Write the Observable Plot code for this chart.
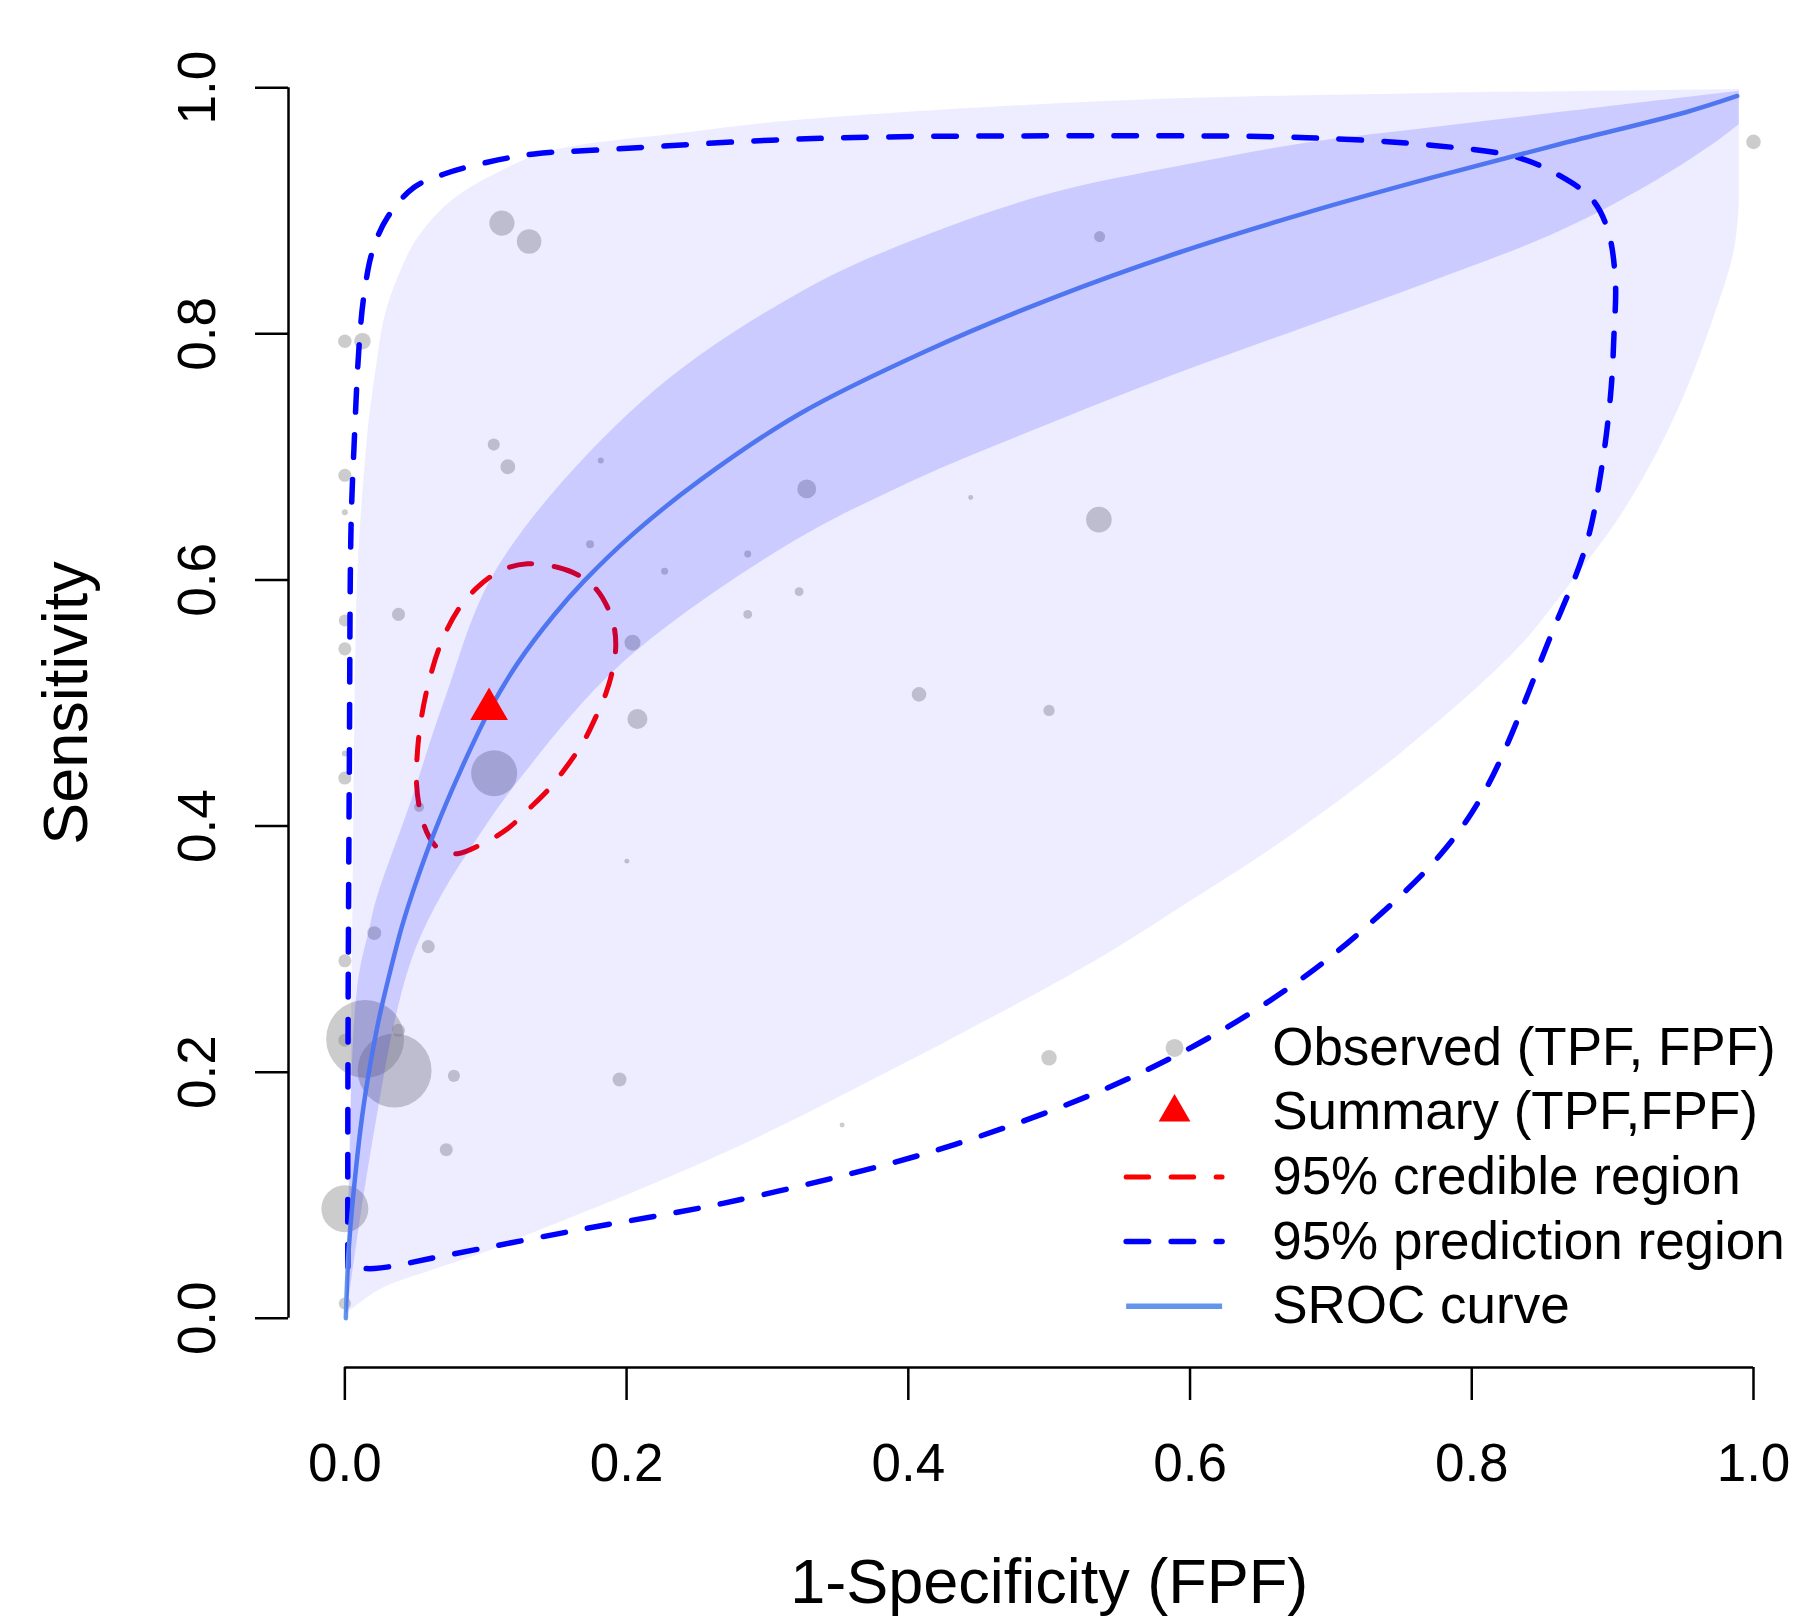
<!DOCTYPE html>
<html>
<head>
<meta charset="utf-8">
<script src="https://cdn.jsdelivr.net/npm/d3@7"></script>
<script src="https://cdn.jsdelivr.net/npm/@observablehq/plot@0.6"></script>
<style>
  html, body { margin: 0; padding: 0; background: #fff; }
  #chart { width: 1793px; height: 1618px; }
</style>
</head>
<body>
<div id="chart"></div>
<script>
// ---------------- data ----------------
const xTicks = [0.0, 0.2, 0.4, 0.6, 0.8, 1.0];
const yTicks = [0.0, 0.2, 0.4, 0.6, 0.8, 1.0];
const xTitle = "1-Specificity (FPF)";
const yTitle = "Sensitivity";

// observed studies: FPF, TPF and relative weight (point area)
const obsFPF = [0.1115, 0.1308, 0.000, 0.0125, 0.1057, 0.1157, 0.000, 0.000, 0.1817, 0.3279,
                0.4443, 0.5353, 0.5358, 1.000, 0.1741, 0.227, 0.286, 0.3225, 0.286, 0.0381,
                0.000, 0.000, 0.2042, 0.2077, 0.106, 0.000, 0.000, 0.0527, 0.2002, 0.4076,
                0.4999, 0.4999, 0.353, 0.195, 0.0774, 0.072, 0.0209, 0.0592, 0.000, 0.0144,
                0.0353, 0.038, 0.000, 0.000, 0.000];
const obsTPF = [0.890, 0.875, 0.794, 0.794, 0.710, 0.692, 0.685, 0.655, 0.697, 0.674,
                0.667, 0.649, 0.879, 0.956, 0.629, 0.607, 0.621, 0.5905, 0.572, 0.572,
                0.567, 0.544, 0.549, 0.487, 0.443, 0.459, 0.439, 0.4155, 0.3715, 0.507,
                0.494, 0.2117, 0.157, 0.194, 0.197, 0.137, 0.313, 0.302, 0.2905, 0.227,
                0.2014, 0.234, 0.226, 0.089, 0.012];
const obsWeight = [10.4, 9.9, 3.0, 4.5, 2.4, 3.6, 2.8, 0.6, 0.6, 5.9,
                   0.4, 10.8, 2.0, 3.5, 1.05, 0.8, 0.8, 1.3, 1.3, 2.8,
                   2.4, 2.8, 4.2, 6.6, 34.8, 0.6, 2.8, 1.6, 0.4, 3.5,
                   2.1, 3.9, 0.4, 3.2, 2.4, 2.8, 3.2, 2.8, 2.8, 100,
                   90, 2.8, 2.8, 36.3, 2.4];

const summaryPoint = [0.1024, 0.495];

// SROC curve
const srocCurve = [[0.0007,0.0],[0.0027,0.0552],[0.0068,0.1094],[0.0122,0.1635],[0.0177,0.2041],
  [0.0245,0.2448],[0.0312,0.2773],[0.0407,0.319],[0.0502,0.353],[0.0634,0.3945],[0.0823,0.4455],
  [0.1024,0.4935],[0.1225,0.532],[0.1485,0.5715],[0.1698,0.599],[0.2053,0.638],[0.2527,0.6815],
  [0.3236,0.7355],[0.4135,0.7865],[0.5033,0.8295],[0.5932,0.8665],[0.683,0.8985],[0.7729,0.9273],
  [0.8628,0.9543],[0.9526,0.9803],[0.9885,0.9933]];

// inner band (credible band of the SROC curve)
const innerUpper = [[0.0007,0.0],[0.0022,0.08],[0.0038,0.16],[0.0068,0.2448],[0.0105,0.283],
  [0.0165,0.3126],[0.022,0.3396],[0.047,0.4208],[0.0705,0.502],[0.1083,0.6103],[0.2112,0.7457],
  [0.3236,0.8343],[0.4135,0.8808],[0.5033,0.915],[0.5932,0.9368],[0.683,0.9555],[0.7729,0.968],
  [0.8628,0.9804],[0.9896,0.9976]];
const innerLower = [[0.0007,0.0],[0.0109,0.0823],[0.0225,0.1635],[0.036,0.2448],[0.05,0.300],
  [0.07,0.347],[0.095,0.392],[0.1225,0.436],[0.1935,0.5291],[0.3095,0.6253],[0.4041,0.6813],
  [0.5033,0.7285],[0.5932,0.7689],[0.683,0.8062],[0.7729,0.8436],[0.8628,0.8839],[0.9301,0.9244],
  [0.9742,0.9569],[0.9896,0.9705]];

// outer band (prediction band of the SROC curve)
const outerUpper = [[0.0007,0.004],[0.0035,0.1],[0.0045,0.25],[0.0055,0.3396],[0.0066,0.475],
  [0.009,0.61],[0.0149,0.7051],[0.0172,0.7322],[0.022,0.7728],[0.0279,0.8134],[0.0374,0.8459],
  [0.0516,0.8784],[0.0752,0.9082],[0.1107,0.9326],[0.1462,0.9488],[0.2428,0.9638],[0.3236,0.9741],
  [0.5482,0.9896],[0.7729,0.9958],[0.8914,0.9975],[0.9896,0.999]];
const outerLower = [[0.0007,0.004],[0.0256,0.0241],[0.061,0.039],[0.0965,0.0526],[0.1317,0.0688],
  [0.2132,0.1067],[0.2947,0.148],[0.40,0.209],[0.4301,0.227],[0.501,0.2705],[0.5484,0.3016],
  [0.5957,0.336],[0.6643,0.387],[0.75,0.460],[0.8313,0.543],[0.8628,0.587],[0.9077,0.6565],
  [0.9436,0.732],[0.9705,0.81],[0.9861,0.868],[0.9896,0.9055]];

// 95% credible region (closed)
const credibleRegion = [[0.1296,0.6131],[0.1509,0.6103],[0.1675,0.6028],[0.1793,0.5914],[0.1864,0.5779],
  [0.1912,0.5616],[0.1923,0.5454],[0.19,0.5264],[0.1852,0.5074],[0.1781,0.4885],[0.1699,0.4695],
  [0.158,0.4492],[0.145,0.4303],[0.132,0.4154],[0.1155,0.3978],[0.0977,0.3856],[0.08,0.3775],
  [0.0681,0.3802],[0.0599,0.391],[0.0539,0.41],[0.0509,0.4343],[0.0516,0.4614],[0.0544,0.4885],
  [0.0599,0.5183],[0.0681,0.5481],[0.08,0.5751],[0.0942,0.5941],[0.1107,0.6076]];

// 95% prediction region (starts and ends at its lower-left corner)
const predictionRegion = [[0.0021,0.0417],[0.0021,0.15],[0.0025,0.30],[0.0032,0.45],[0.0044,0.6432],
  [0.0066,0.7105],[0.0102,0.7918],[0.0137,0.8324],[0.0197,0.8676],[0.0303,0.8947],[0.0492,0.9191],
  [0.0705,0.9299],[0.1012,0.9394],[0.1344,0.9462],[0.1817,0.9495],[0.3326,0.9587],[0.5482,0.9609],
  [0.683,0.9594],[0.7729,0.9531],[0.8313,0.9438],[0.8628,0.9283],[0.8852,0.9096],[0.8965,0.8847],
  [0.9019,0.8443],[0.9009,0.7977],[0.8986,0.7511],[0.8919,0.6888],[0.8808,0.6267],[0.856,0.5544],
  [0.8109,0.432],[0.7784,0.3777],[0.7258,0.3188],[0.6785,0.2753],[0.6241,0.235],
  [0.5626,0.1981],[0.501,0.1685],[0.4328,0.1412],[0.3762,0.1225],[0.2676,0.0932],[0.1643,0.0715],
  [0.072,0.0512],[0.0208,0.0404],[0.0021,0.0417]];

const legendLabels = ["Observed (TPF, FPF)", "Summary (TPF,FPF)", "95% credible region",
                      "95% prediction region", "SROC curve"];

// ---------------- layout / style ----------------
const FONT = "'Liberation Sans', Arial, Helvetica, sans-serif";
const legendRowY = [0.2197, 0.1673, 0.1148, 0.0623, 0.0098];
const legendSymX = 0.589, legendLineX1 = 0.555, legendLineX2 = 0.6231, legendTextX = 0.6583;

const observed = obsFPF.map((x, i) => ({x, y: obsTPF[i], w: obsWeight[i]}));
// closed band outlines; the end points are repeated so the straight right edge keeps sharp corners
const bandOutline = (upper, lower) => {
  const u = upper.at(-1), l = lower.at(-1);
  return [...upper, u, l, l, ...lower.slice(0, -1).reverse()];
};
const outerBand = bandOutline(outerUpper, outerLower);
const innerBand = bandOutline(innerUpper, innerLower);
const px = d => d[0], py = d => d[1];

const pointFill = "#808080", pointOpacity = 0.4;
const dash = "22.5,22.5";

const chart = Plot.plot({
  width: 1793,
  height: 1618,
  marginLeft: 288,
  marginRight: 0,
  marginTop: 38,
  marginBottom: 251,
  x: {domain: [-0.04, 1.0284]},
  y: {domain: [-0.04, 1.04]},
  r: {type: "sqrt", domain: [0, 100], range: [0, 39]},
  style: {fontFamily: FONT, fontSize: "53px", color: "#000", background: "#fff"},
  marks: [
    // axes (R style: lines only span the tick range)
    Plot.ruleY([-0.04], {x1: 0, x2: 1, stroke: "#000", strokeWidth: 2.5}),
    Plot.ruleX([-0.04], {y1: 0, y2: 1, stroke: "#000", strokeWidth: 2.5}),
    Plot.axisX({ticks: xTicks, tickSize: 33, tickPadding: 43, tickFormat: d => d.toFixed(1),
                fontSize: 53, strokeWidth: 2.5, label: null}),
    Plot.axisY({ticks: yTicks, tickSize: 33, tickPadding: 41, tickRotate: -90,
                tickFormat: d => d.toFixed(1), fontSize: 53, strokeWidth: 2.5, label: null}),

    // observed points
    Plot.dot(observed, {x: "x", y: "y", r: "w", fill: pointFill, fillOpacity: pointOpacity, stroke: "none"}),

    // regions and curve (drawn beneath the translucent bands)
    Plot.line(credibleRegion, {x: px, y: py, curve: "catmull-rom-closed", stroke: "#ff0000",
      strokeWidth: 5, strokeDasharray: dash, strokeLinecap: "round"}),
    Plot.line(predictionRegion, {x: px, y: py, curve: "catmull-rom", stroke: "#0000ff",
      strokeWidth: 5.5, strokeDasharray: dash, strokeLinecap: "round", strokeLinejoin: "round"}),
    Plot.line(srocCurve, {x: px, y: py, curve: "catmull-rom", stroke: "cornflowerblue", strokeWidth: 4.5}),

    // bands
    Plot.line(outerBand, {x: px, y: py, curve: "catmull-rom", fill: "#0000ff", fillOpacity: 0.07, stroke: "none"}),
    Plot.line(innerBand, {x: px, y: py, curve: "catmull-rom", fill: "#0000ff", fillOpacity: 0.143, stroke: "none"}),

    // summary point
    Plot.dot([summaryPoint], {x: px, y: py, symbol: "triangle", r: 14, fill: "#ff0000", stroke: "none"}),

    // legend
    Plot.dot([[legendSymX, legendRowY[0]]], {x: px, y: py, r: 9, fill: pointFill, fillOpacity: pointOpacity, stroke: "none"}),
    Plot.dot([[legendSymX, legendRowY[1]]], {x: px, y: py, symbol: "triangle", r: 11.8, fill: "#ff0000", stroke: "none"}),
    Plot.ruleY([legendRowY[2]], {x1: legendLineX1, x2: legendLineX2, stroke: "#ff0000", strokeWidth: 5,
      strokeDasharray: dash, strokeLinecap: "round"}),
    Plot.ruleY([legendRowY[3]], {x1: legendLineX1, x2: legendLineX2, stroke: "#0000ff", strokeWidth: 5.5,
      strokeDasharray: dash, strokeLinecap: "round"}),
    Plot.ruleY([legendRowY[4]], {x1: legendLineX1, x2: legendLineX2, stroke: "cornflowerblue", strokeWidth: 5.5}),
    Plot.text(legendLabels, {x: legendTextX, y: (d, i) => legendRowY[i], text: d => d,
      textAnchor: "start", lineAnchor: "middle", fontSize: 53, fill: "#000"}),

    // axis titles
    Plot.text([xTitle], {x: 0.5, frameAnchor: "bottom", dy: 235, text: d => d,
      lineAnchor: "bottom", textAnchor: "middle", fontSize: 63, fill: "#000"}),
    Plot.text([yTitle], {y: 0.5, frameAnchor: "left", dx: -202, text: d => d, rotate: -90,
      lineAnchor: "bottom", textAnchor: "middle", fontSize: 63, fill: "#000"})
  ]
});

document.getElementById("chart").append(chart);
</script>
</body>
</html>
